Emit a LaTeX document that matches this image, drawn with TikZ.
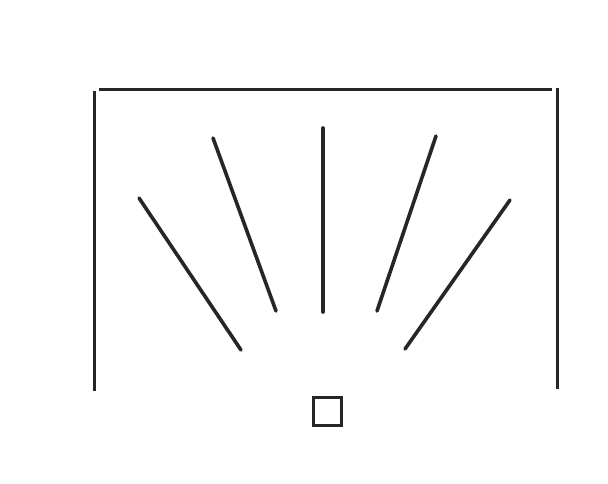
\documentclass[tikz,border=0pt]{standalone}
\usepackage{tikz}
\tikzset{
  wall/.style ={draw=black!85,line width=3pt},
  ray/.style  ={draw=black!85,line width=3.6pt,line cap=round},
  lamp/.style ={draw=black!85,line width=2.4pt,fill=white,minimum size=28pt,inner sep=0pt},
}
\begin{document}
\begin{tikzpicture}[x=1pt, y=-1pt]
\useasboundingbox[fill=white] (0,0) rectangle (608,483);

% the open frame
\draw[wall] (94,391) -- (94,91);
\draw[wall] (99,89) -- (552,89);
\draw[wall] (557,88) -- (557,389);

% five rays fanning out above the source
\draw[ray] (139,198) -- (241,350);
\draw[ray] (213,138) -- (276,311);
\draw[ray] (323,128) -- (323,312);
\draw[ray] (436,136) -- (377,311);
\draw[ray] (510,200) -- (405,349);

% the source
\node[lamp] (src) at (327.5,411.5) {};
\end{tikzpicture}
\end{document}
